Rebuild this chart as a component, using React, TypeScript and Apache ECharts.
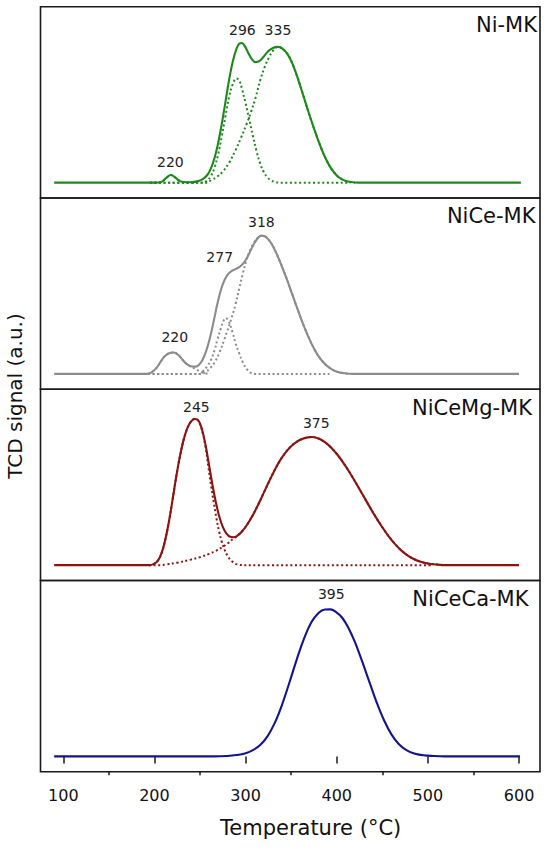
import React, { useEffect, useRef } from "react";
import * as echarts from "echarts";

// ---------- data (temperature °C, TCD signal a.u.) ----------
const tickValues = [100, 200, 300, 400, 500, 600];
const minorTickValues = [150, 250, 350, 450, 550];
const panelNames = ["Ni-MK", "NiCe-MK", "NiCeMg-MK", "NiCeCa-MK"];

// Ni-MK
const niSolid = [
  [90, 0], [200, 0], [208, 0.5], [213, 2.5], [218, 4], [223, 2.6], [228, 0.8], [235, 0.2], [242, 0.3],
  [248, 0.8], [253, 1.8], [258, 4], [262, 7.5], [266, 13], [270, 21], [274, 31], [278, 42.5], [282, 54],
  [286, 63.5], [290, 70], [293, 72.6], [296, 73], [299, 71.5], [303, 67.8], [307, 64.5], [311, 63],
  [315, 63.5], [320, 66], [325, 68.8], [330, 70.4], [335, 71], [340, 70.2], [346, 67.2], [352, 61.5],
  [358, 53.5], [364, 44.5], [370, 35.5], [376, 27], [382, 19.2], [388, 12.5], [394, 7.3], [400, 3.8],
  [406, 1.7], [412, 0.6], [420, 0.1], [430, 0], [602, 0],
];
const niFit220 = [
  [195, 0], [205, 0], [208, 0.5], [213, 2.5], [218, 4], [223, 2.6], [228, 0.8], [233, 0], [245, 0],
];
const niFit296 = [
  [195, 0], [251, 0], [257, 0.8], [262, 3.5], [266, 8], [270, 15], [274, 24.5], [278, 35], [282, 45],
  [286, 51.5], [290, 54.5], [293, 53.5], [296, 49], [300, 41.5], [304, 33], [308, 24.5], [312, 16.5],
  [316, 10], [320, 5.5], [324, 2.8], [328, 1.2], [333, 0.3], [338, 0], [415, 0],
];
const niFit335 = [
  [195, 0], [256, 0], [263, 1.5], [269, 3.2], [275, 5.8], [282, 10.5], [289, 17], [295, 23.5],
  [301, 30.5], [306, 37], [311, 44.5], [316, 53.5], [321, 60.5], [326, 65.8], [331, 69.5], [336, 71],
  [340, 70.2], [346, 67.2], [352, 61.5], [358, 53.5], [364, 44.5], [370, 35.5], [376, 27], [382, 19.2],
  [388, 12.5], [394, 7.3], [400, 3.8], [406, 1.7], [412, 0.6], [420, 0],
];
const niPeakText = ["220", "296", "335"];
const niPeakTemp = [217.5, 296.5, 335.5];
const niPeakLevel = [10.8, 79.7, 79.7];

// NiCe-MK
const niceSolid = [
  [90, 0], [191, 0], [196, 0.5], [202, 3], [207, 6.5], [211, 9.1], [216, 10.8], [221, 11.2], [226, 10],
  [231, 7.3], [236, 5], [241, 3.9], [245, 3.8], [249, 4.8], [253, 7.5], [257, 12.3], [261, 19],
  [265, 27.5], [269, 36.5], [273, 44], [277, 49.2], [281, 52.3], [285, 53.9], [289, 54.8], [293, 55.8],
  [297, 57.5], [301, 60.3], [305, 64], [309, 67.8], [313, 70.8], [317, 72.3], [321, 72], [325, 70.3],
  [330, 66.8], [335, 61.8], [340, 56], [345, 49.8], [350, 43.2], [355, 36.5], [360, 30], [365, 23.8],
  [370, 18.2], [375, 13.3], [380, 9.3], [385, 6.2], [390, 3.9], [396, 2], [402, 0.9], [409, 0.3],
  [418, 0], [600, 0],
];
const niceFit220 = [
  [193, 0], [196, 0.5], [202, 3], [207, 6.5], [211, 9.1], [216, 10.8], [221, 11.2], [226, 10],
  [231, 7.3], [236, 5], [241, 3.5], [245, 2.5], [249, 1.5], [253, 0.7], [257, 0.2], [261, 0],
];
const niceFit277 = [
  [193, 0], [249, 0], [253, 1.2], [258, 4], [262, 7.3], [266, 12.5], [269, 17.8], [273, 24], [276, 28],
  [278, 29.2], [281, 28], [286, 21.3], [289, 16], [293, 10.8], [297, 6], [302, 2.1], [306, 0.5],
  [311, 0], [392, 0],
];
const niceFit318 = [
  [193, 0], [251, 0], [257, 1.2], [261, 3], [266, 6], [271, 10.8], [277, 18.5], [284, 28.3], [289, 36.5],
  [293, 44.5], [297, 52.5], [301, 59.5], [305, 64.8], [309, 68.5], [313, 71], [317, 72.1], [321, 72],
  [325, 70.3], [330, 66.8], [335, 61.8], [340, 56], [345, 49.8], [350, 43.2], [355, 36.5], [360, 30],
  [365, 23.8], [370, 18.2], [375, 13.3], [380, 9.3], [385, 6.2], [390, 3.9], [396, 2], [402, 0.9],
  [409, 0.3], [414, 0],
];
const nicePeakText = ["220", "277", "318"];
const nicePeakTemp = [222.3, 271.6, 317.3];
const nicePeakLevel = [19.3, 60.9, 79.2];

// NiCeMg-MK
const nicemgSolid = [
  [90, 0], [194, 0], [199, 0.5], [204, 2.5], [208, 6.5], [212, 13.5], [216, 23], [220, 34.5],
  [224, 46.5], [228, 57], [232, 65.5], [236, 71.5], [240, 75], [244, 76.4], [247, 76.2], [250, 74],
  [253, 69.5], [256, 63], [259, 55], [262, 46.5], [265, 38.5], [268, 31.5], [271, 25.7], [275, 20],
  [279, 16.5], [283, 14.8], [287, 14.6], [291, 15.4], [296, 17.6], [302, 21.4], [308, 26.2],
  [314, 31.8], [320, 37.9], [326, 44], [332, 49.8], [338, 54.9], [344, 59], [350, 62.2], [356, 64.5],
  [362, 66], [368, 66.8], [373, 67], [380, 66.2], [387, 64.3], [394, 61.4], [401, 57.6], [408, 53],
  [415, 47.8], [422, 42.2], [429, 36.4], [436, 30.6], [443, 25], [450, 19.8], [457, 15.1], [464, 11],
  [471, 7.6], [478, 5], [485, 3.1], [492, 1.8], [500, 0.9], [510, 0.3], [522, 0], [600, 0],
];
const nicemgFit245 = [
  [194, 0], [199, 0.5], [204, 2.5], [208, 6.5], [212, 13.5], [216, 23], [220, 34.5], [224, 46.5],
  [228, 57], [232, 65.5], [236, 71.5], [240, 75], [244, 76.4], [247, 76], [250, 73.8], [253, 69],
  [256, 62], [259, 52], [262, 42], [265, 33], [268, 24.5], [271, 17.5], [274, 12], [277, 8], [280, 5],
  [283, 3], [286, 1.6], [289, 0.7], [293, 0.2], [297, 0], [506, 0],
];
const nicemgFit375 = [
  [194, 0], [206, 0], [213, 0.4], [225, 1.3], [240, 2.9], [250, 4.2], [260, 5.9], [268, 7.6],
  [275, 9.6], [281, 11.6], [286, 13.6], [291, 15.4], [296, 17.6], [302, 21.4], [308, 26.2],
  [314, 31.8], [320, 37.9], [326, 44], [332, 49.8], [338, 54.9], [344, 59], [350, 62.2], [356, 64.5],
  [362, 66], [368, 66.8], [373, 67], [380, 66.2], [387, 64.3], [394, 61.4], [401, 57.6], [408, 53],
  [415, 47.8], [422, 42.2], [429, 36.4], [436, 30.6], [443, 25], [450, 19.8], [457, 15.1], [464, 11],
  [471, 7.6], [478, 5], [485, 3.1], [492, 1.8], [500, 0.9], [510, 0.3], [516, 0],
];
const nicemgPeakText = ["245", "375"];
const nicemgPeakTemp = [246, 377.6];
const nicemgPeakLevel = [82.6, 74.2];

// NiCeCa-MK
const nicecaSolid = [
  [90, 0], [265, 0], [280, 0.2], [290, 0.7], [300, 1.7], [308, 3.3], [316, 6], [324, 10.5], [332, 17.5],
  [340, 27], [348, 38.5], [356, 50.5], [364, 61.5], [372, 70], [380, 75], [387, 76.8], [393, 76.9],
  [399, 75.6], [406, 72.5], [413, 67], [420, 59.7], [428, 49.5], [436, 38.7], [444, 28], [452, 18.8],
  [460, 11.5], [468, 6.5], [476, 3.4], [485, 1.5], [495, 0.6], [506, 0.2], [518, 0], [601, 0],
];
const nicecaPeakText = ["395"];
const nicecaPeakTemp = [394];
const nicecaPeakLevel = [85];

// ---------- layout / style ----------
const FONT = "DejaVu Sans";
const GRID_LEFT = 40.5;
const GRID_RIGHT_EDGE = 540;
const GRID_TOP = 6.7;
const PANEL_H = 191.25;
const X_MIN = 75;
const X_MAX = 623;
const nameRight = [537, 535.5, 532, 528.5];

const panels = [
  { color: "#1b8a1b", solid: niSolid, fits: [niFit220, niFit296, niFit335], text: niPeakText, temp: niPeakTemp, level: niPeakLevel },
  { color: "#8c8c8c", solid: niceSolid, fits: [niceFit220, niceFit277, niceFit318], text: nicePeakText, temp: nicePeakTemp, level: nicePeakLevel },
  { color: "#8e1212", solid: nicemgSolid, fits: [nicemgFit245, nicemgFit375], text: nicemgPeakText, temp: nicemgPeakTemp, level: nicemgPeakLevel },
  { color: "#14148c", solid: nicecaSolid, fits: [] as number[][][], text: nicecaPeakText, temp: nicecaPeakTemp, level: nicecaPeakLevel },
];

export default function App() {
  const ref = useRef<HTMLDivElement>(null);

  useEffect(() => {
    if (!ref.current) return;
    const chart = echarts.init(ref.current, undefined, { renderer: "svg" });

    const grid = panels.map((_, i) => ({
      left: GRID_LEFT,
      width: GRID_RIGHT_EDGE - GRID_LEFT,
      top: GRID_TOP + i * PANEL_H,
      height: PANEL_H,
      show: true,
      borderColor: "#1a1a1a",
      borderWidth: 1.6,
      backgroundColor: "transparent",
    }));

    const xAxis: any[] = panels.map((_, i) => {
      const last = i === panels.length - 1;
      return {
        type: "value",
        gridIndex: i,
        min: X_MIN,
        max: X_MAX,
        show: last,
        splitLine: { show: false },
        axisLine: { show: false },
        axisTick: {
          show: last,
          length: 7,
          customValues: tickValues,
          lineStyle: { color: "#1a1a1a", width: 1.5 },
        },
        axisLabel: {
          show: last,
          customValues: tickValues,
          margin: 16,
          color: "#111",
          fontFamily: FONT,
          fontSize: 16,
        },
      };
    });
    xAxis.push({
      type: "value",
      gridIndex: panels.length - 1,
      min: X_MIN,
      max: X_MAX,
      position: "bottom",
      splitLine: { show: false },
      axisLine: { show: false },
      axisLabel: { show: false },
      axisTick: {
        show: true,
        length: 3.5,
        customValues: minorTickValues,
        lineStyle: { color: "#1a1a1a", width: 1.5 },
      },
    });

    const yAxis = panels.map((_, i) => ({
      type: "value",
      gridIndex: i,
      min: -8,
      max: 92,
      show: false,
      splitLine: { show: false },
    }));

    const series: any[] = [];
    panels.forEach((p, i) => {
      p.fits.forEach((f) => {
        series.push({
          type: "line",
          xAxisIndex: i,
          yAxisIndex: i,
          data: f,
          smooth: 0.4,
          showSymbol: false,
          silent: true,
          lineStyle: { color: p.color, width: 2, type: [2, 2.6] },
          z: 2,
        });
      });
      series.push({
        type: "line",
        xAxisIndex: i,
        yAxisIndex: i,
        data: p.solid,
        smooth: 0.4,
        showSymbol: false,
        silent: true,
        lineStyle: { color: p.color, width: 2.1 },
        z: 3,
        markPoint: {
          symbol: "circle",
          symbolSize: 0,
          silent: true,
          label: {
            show: true,
            position: "inside",
            formatter: "{b}",
            color: "#222",
            fontFamily: FONT,
            fontSize: 14,
          },
          data: p.text.map((t, k) => ({ name: t, coord: [p.temp[k], p.level[k]] })),
        },
      });
    });

    const graphic: any[] = panelNames.map((name, i) => ({
      type: "text",
      style: {
        text: name,
        x: nameRight[i],
        y: GRID_TOP + i * PANEL_H + 8,
        align: "right",
        verticalAlign: "top",
        fill: "#111",
        font: `21px "${FONT}"`,
      },
    }));
    graphic.push({
      type: "text",
      style: {
        text: "Temperature (°C)",
        x: 220,
        y: 828,
        align: "left",
        verticalAlign: "middle",
        fill: "#111",
        font: `21px "${FONT}"`,
      },
    });
    graphic.push({
      type: "text",
      x: 15,
      y: 396,
      rotation: Math.PI / 2,
      style: {
        text: "TCD signal (a.u.)",
        x: 0,
        y: 0,
        align: "center",
        verticalAlign: "middle",
        fill: "#111",
        font: `20px "${FONT}"`,
      },
    });

    chart.setOption({
      animation: false,
      backgroundColor: "#ffffff",
      grid,
      xAxis,
      yAxis,
      series,
      graphic,
    });

    return () => chart.dispose();
  }, []);

  return (
    <div
      ref={ref}
      style={{ position: "fixed", left: 0, top: 0, width: 550, height: 849, background: "#fff" }}
    />
  );
}
